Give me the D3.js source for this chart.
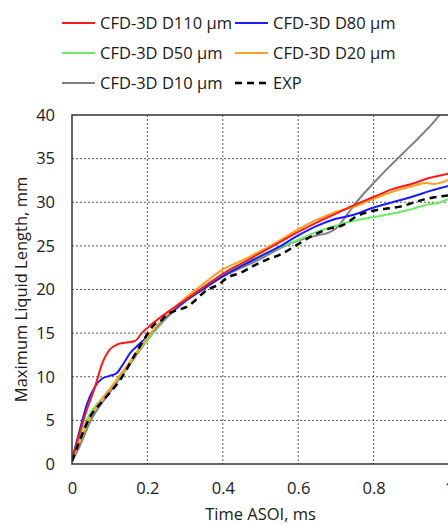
<!DOCTYPE html>
<html>
<head>
<meta charset="utf-8">
<script src="https://cdn.jsdelivr.net/npm/d3@7"></script>
<style>
  html, body { margin: 0; padding: 0; background: #fff; }
  svg { display: block; }
</style>
</head>
<body>
<div id="chart"></div>
<script>
// ── Data (time ASOI in ms, max liquid length in mm) ──
const D110 = [[0,0.5],[0.02,3.5],[0.04,6.3],[0.06,8.7],[0.08,11.5],[0.1,13.1],[0.12,13.7],[0.14,13.9],[0.167,14.1],[0.185,15.0],[0.2,15.6],[0.25,17.3],[0.3,18.8],[0.35,20.3],[0.4,21.8],[0.45,23.0],[0.5,24.2],[0.55,25.4],[0.6,26.6],[0.65,27.7],[0.7,28.7],[0.75,29.7],[0.8,30.6],[0.85,31.5],[0.9,32.1],[0.95,32.8],[1.0,33.3]];
const D80  = [[0,0.5],[0.02,3.8],[0.04,6.9],[0.06,8.8],[0.08,9.8],[0.1,10.1],[0.118,10.4],[0.135,11.4],[0.154,12.7],[0.18,13.8],[0.2,14.6],[0.25,16.9],[0.3,18.7],[0.35,20.1],[0.4,21.5],[0.45,22.7],[0.5,23.8],[0.55,24.9],[0.6,26.2],[0.65,27.3],[0.7,28.1],[0.75,28.6],[0.8,29.4],[0.85,30.0],[0.9,30.6],[0.95,31.3],[1.0,31.9]];
const D50  = [[0,0.5],[0.02,3.2],[0.048,5.8],[0.083,7.7],[0.127,10.0],[0.172,12.7],[0.207,14.6],[0.25,16.8],[0.3,18.8],[0.35,20.3],[0.4,21.7],[0.45,22.9],[0.5,23.9],[0.55,24.8],[0.6,25.7],[0.65,26.6],[0.7,27.3],[0.75,27.9],[0.8,28.3],[0.85,28.7],[0.9,29.2],[0.95,29.8],[0.97,29.9],[1.0,30.4]];
const D20  = [[0,0.5],[0.02,2.5],[0.05,5.5],[0.1,8.6],[0.15,11.5],[0.2,14.5],[0.25,17.0],[0.3,19.0],[0.35,20.7],[0.4,22.3],[0.45,23.3],[0.5,24.4],[0.55,25.6],[0.6,26.9],[0.65,28.0],[0.7,28.9],[0.75,29.5],[0.8,30.4],[0.85,31.2],[0.9,31.8],[0.94,32.2],[0.96,32.1],[1.0,32.6]];
const D10  = [[0,0.3],[0.02,2.0],[0.05,5.0],[0.1,8.2],[0.15,11.2],[0.2,14.2],[0.25,16.7],[0.3,18.6],[0.35,20.1],[0.4,21.5],[0.45,22.5],[0.5,23.5],[0.55,24.7],[0.6,25.6],[0.65,26.2],[0.68,26.5],[0.7,27.0],[0.72,28.0],[0.74,29.2],[0.77,30.8],[0.8,32.2],[0.84,34.0],[0.88,35.7],[0.92,37.4],[0.96,39.2],[0.98,40.3]];
const EXP  = [[0,0.3],[0.021,2.75],[0.048,5.4],[0.083,7.3],[0.127,9.6],[0.172,12.9],[0.2,14.9],[0.216,15.9],[0.235,16.4],[0.251,17.1],[0.27,17.5],[0.304,18.0],[0.357,19.9],[0.393,20.7],[0.41,21.3],[0.446,21.9],[0.481,22.7],[0.516,23.4],[0.552,24.0],[0.6,25.2],[0.631,26.0],[0.684,27.0],[0.72,27.4],[0.755,28.4],[0.808,29.1],[0.84,29.3],[0.87,29.5],[0.932,30.3],[1.0,30.8]];

const SERIES = [
  { name: "CFD-3D D110 µm", data: D110, color: "#ff1a1a", dash: null },
  { name: "CFD-3D D80 µm",  data: D80,  color: "#1a1aff", dash: null },
  { name: "CFD-3D D50 µm",  data: D50,  color: "#66ee66", dash: null },
  { name: "CFD-3D D20 µm",  data: D20,  color: "#ffa01e", dash: null },
  { name: "CFD-3D D10 µm",  data: D10,  color: "#808080", dash: null },
  { name: "EXP",            data: EXP,  color: "#000000", dash: "7,5" }
];
// draw order: bottom to top
const DRAW_ORDER = ["CFD-3D D10 µm","CFD-3D D50 µm","CFD-3D D80 µm","CFD-3D D20 µm","CFD-3D D110 µm","EXP"];

const X_TICKS = [0, 0.2, 0.4, 0.6, 0.8, 1];
const Y_TICKS = [0, 5, 10, 15, 20, 25, 30, 35, 40];

const FONT = "'Open Sans', sans-serif";
const FS = "16.5px";
const INK = "#1a1a1a";
const W = 448, H = 524;
const plot = { left: 72, right: 449, top: 115, bottom: 464 };

const svg = d3.select("#chart").append("svg")
  .attr("width", W).attr("height", H);

const x = d3.scaleLinear().domain([0, 1]).range([plot.left, plot.right]);
const y = d3.scaleLinear().domain([0, 40]).range([plot.bottom, plot.top]);

// ── Grid ─────────────────────────────
const grid = svg.append("g");
grid.selectAll(".vg").data(X_TICKS.filter(d => d > 0 && d < 1)).join("line")
  .attr("x1", d => x(d)).attr("x2", d => x(d))
  .attr("y1", plot.top).attr("y2", plot.bottom)
  .attr("stroke", "#555").attr("stroke-width", 1).attr("stroke-dasharray", "2,2");
grid.selectAll(".hg").data(Y_TICKS.filter(d => d > 0 && d < 40)).join("line")
  .attr("x1", plot.left).attr("x2", plot.right)
  .attr("y1", d => y(d)).attr("y2", d => y(d))
  .attr("stroke", "#555").attr("stroke-width", 1).attr("stroke-dasharray", "2,2");

// ── Lines ────────────────────────────
svg.append("clipPath").attr("id", "clip")
  .append("rect").attr("x", plot.left).attr("y", plot.top)
  .attr("width", plot.right - plot.left).attr("height", plot.bottom - plot.top);

const line = d3.line().x(d => x(d[0])).y(d => y(d[1])).curve(d3.curveMonotoneX);
const lines = svg.append("g").attr("clip-path", "url(#clip)");
DRAW_ORDER.forEach(n => {
  const s = SERIES.find(d => d.name === n);
  lines.append("path").datum(s.data)
    .attr("fill", "none").attr("stroke", s.color)
    .attr("stroke-width", s.dash ? 2.5 : 2)
    .attr("stroke-dasharray", s.dash)
    .attr("d", line);
});

// ── Frame ────────────────────────────
svg.append("rect")
  .attr("x", plot.left).attr("y", plot.top)
  .attr("width", plot.right - plot.left).attr("height", plot.bottom - plot.top)
  .attr("fill", "none").attr("stroke", "#333").attr("stroke-width", 1.5);

// ── Axes ─────────────────────────────
const xAxis = svg.append("g").attr("transform", `translate(0,${plot.bottom})`)
  .call(d3.axisBottom(x).tickValues(X_TICKS).tickSize(0).tickPadding(18)
    .tickFormat(d => d3.format("")(d)));
xAxis.select(".domain").remove();
xAxis.selectAll("text").attr("font-family", FONT).attr("font-size", FS).attr("fill", INK);

const yAxis = svg.append("g").attr("transform", `translate(${plot.left},0)`)
  .call(d3.axisLeft(y).tickValues(Y_TICKS).tickSize(0).tickPadding(17));
yAxis.select(".domain").remove();
yAxis.selectAll("text").attr("font-family", FONT).attr("font-size", FS).attr("fill", INK);

svg.append("text")
  .attr("x", (plot.left + plot.right) / 2).attr("y", 520)
  .attr("text-anchor", "middle").attr("font-family", FONT).attr("font-size", FS)
  .attr("fill", INK).text("Time ASOI, ms");

svg.append("text")
  .attr("transform", `translate(27,${(plot.top + plot.bottom) / 2}) rotate(-90)`)
  .attr("text-anchor", "middle").attr("font-family", FONT).attr("font-size", FS)
  .attr("fill", INK).text("Maximum Liquid Length, mm");

// ── Legend ───────────────────────────
const LEG_COLS = [62, 235];
const LEG_ROWS = [23, 53, 83];
const legend = svg.append("g");
SERIES.forEach((s, i) => {
  const lx = LEG_COLS[i % 2], ly = LEG_ROWS[Math.floor(i / 2)];
  legend.append("line")
    .attr("x1", lx).attr("x2", lx + 33).attr("y1", ly).attr("y2", ly)
    .attr("stroke", s.color).attr("stroke-width", s.dash ? 2.5 : 2)
    .attr("stroke-dasharray", s.dash);
  legend.append("text")
    .attr("x", lx + 38).attr("y", ly + 6)
    .attr("font-family", FONT).attr("font-size", FS).attr("fill", INK)
    .text(s.name);
});
</script>
</body>
</html>
